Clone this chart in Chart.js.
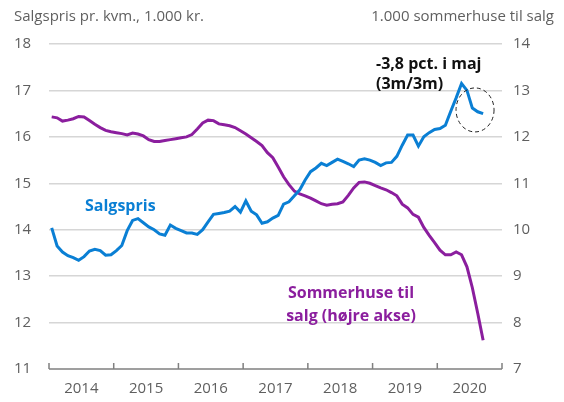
<!DOCTYPE html>
<html>
<head>
<meta charset="utf-8">
<script src="https://cdn.jsdelivr.net/npm/chart.js@4/dist/chart.umd.min.js"></script>
<style>
    body { margin: 0; background: #fff; }
    #wrap { width: 564px; height: 402px; }
</style>
</head>
<body>
<div id="wrap"><canvas id="myChart"></canvas></div>
<script>
const years = ['2014', '2015', '2016', '2017', '2018', '2019', '2020'];

// salgspris pr. kvm., 1.000 kr. (venstre akse), one value per month
const salgspris = [
    14.04, 13.65, 13.52, 13.44, 13.40, 13.34, 13.42, 13.54, 13.58, 13.55,
    13.45, 13.46, 13.55, 13.66, 13.98, 14.20, 14.24, 14.15, 14.06, 14.00,
    13.91, 13.88, 14.10, 14.03, 13.98, 13.93, 13.93, 13.90, 14.00, 14.17,
    14.33, 14.35, 14.37, 14.40, 14.50, 14.38, 14.62, 14.40, 14.32, 14.14,
    14.17, 14.25, 14.31, 14.55, 14.60, 14.73, 14.86, 15.07, 15.25, 15.33,
    15.43, 15.38, 15.45, 15.52, 15.47, 15.42, 15.36, 15.50, 15.53, 15.50,
    15.45, 15.38, 15.44, 15.45, 15.58, 15.82, 16.04, 16.04, 15.80, 16.00,
    16.09, 16.16, 16.18, 16.25, 16.55, 16.84, 17.15, 17.00, 16.62, 16.54,
    16.50
];

// 1.000 sommerhuse til salg (højre akse)
const tilSalg = [
    12.43, 12.41, 12.34, 12.36, 12.39, 12.44, 12.43, 12.35, 12.27, 12.20,
    12.14, 12.11, 12.09, 12.07, 12.04, 12.08, 12.06, 12.02, 11.94, 11.90,
    11.90, 11.92, 11.94, 11.96, 11.98, 12.00, 12.05, 12.17, 12.30, 12.36,
    12.35, 12.28, 12.26, 12.24, 12.20, 12.13, 12.06, 11.98, 11.90, 11.81,
    11.66, 11.55, 11.35, 11.14, 10.97, 10.83, 10.77, 10.73, 10.68, 10.62,
    10.56, 10.53, 10.55, 10.56, 10.60, 10.74, 10.90, 11.02, 11.03, 11.00,
    10.95, 10.90, 10.86, 10.80, 10.73, 10.55, 10.47, 10.33, 10.27, 10.05,
    9.88, 9.72, 9.56, 9.46, 9.46, 9.52, 9.46, 9.20, 8.75, 8.20,
    7.62
];

const blue = '#0a7fd4';
const purple = '#8b1e9e';
const grey = '#5f5f5f';
const font = 'Open Sans';

const toPoints = (arr) => arr.map((v, i) => ({ x: i + 0.5, y: v }));

const extras = {
    id: 'extras',
    afterDraw(chart)
    {
        const { ctx, chartArea, scales } = chart;
        const x = scales.x;
        const y = scales.y;
        ctx.save();

        // bottom axis line with ticks pointing up
        ctx.strokeStyle = '#808080';
        ctx.lineWidth = 1.5;
        ctx.beginPath();
        ctx.moveTo(x.getPixelForValue(0), chartArea.bottom);
        ctx.lineTo(x.getPixelForValue(years.length * 12), chartArea.bottom);
        for (let m = 0; m <= years.length * 12; m += 12)
        {
            const px = x.getPixelForValue(m);
            ctx.moveTo(px, chartArea.bottom);
            ctx.lineTo(px, chartArea.bottom - 6);
        }
        ctx.stroke();

        // axis titles
        ctx.fillStyle = grey;
        ctx.font = '15px "' + font + '"';
        ctx.textBaseline = 'middle';
        ctx.textAlign = 'left';
        ctx.fillText('Salgspris pr. kvm., 1.000 kr.', 14, 17);
        ctx.textAlign = 'right';
        ctx.fillText('1.000 sommerhuse til salg', 554, 17);

        // series labels
        ctx.font = 'bold 16px "' + font + '"';
        ctx.textAlign = 'left';
        ctx.fillStyle = blue;
        ctx.fillText('Salgspris', 85, 206);
        ctx.fillStyle = purple;
        ctx.textAlign = 'center';
        ctx.fillText('Sommerhuse til', 351, 293);
        ctx.fillText('salg (højre akse)', 351, 316);

        ctx.fillStyle = '#111';
        ctx.textAlign = 'left';
        ctx.fillText('-3,8 pct. i maj', 376, 64);
        ctx.fillText('(3m/3m)', 376, 84);

        // dashed circle round the last months
        ctx.strokeStyle = '#222';
        ctx.lineWidth = 1;
        ctx.setLineDash([4, 3]);
        ctx.beginPath();
        ctx.ellipse(x.getPixelForValue(79), y.getPixelForValue(16.58), 19, 22, 0, 0, Math.PI * 2);
        ctx.stroke();

        ctx.restore();
    }
};

new Chart(document.getElementById('myChart'), {
    type: 'line',
    data: {
        datasets: [
            {
                data: toPoints(salgspris),
                borderColor: blue,
                borderWidth: 3,
                pointRadius: 0,
                yAxisID: 'y',
            },
            {
                data: toPoints(tilSalg),
                borderColor: purple,
                borderWidth: 3,
                pointRadius: 0,
                yAxisID: 'y1',
            },
        ]
    },
    options: {
        responsive: true,
        maintainAspectRatio: false,
        animation: false,
        layout: {
            padding: {
                top: 44,
                bottom: 0,
                left: 14,
                right: 0
            },
        },
        plugins: {
            legend: { display: false },
            tooltip: { enabled: false },
        },
        scales: {
            x: {
                type: 'linear',
                min: 0,
                max: years.length * 12,
                afterBuildTicks: (scale) =>
                {
                    scale.ticks = years.map((_, i) => ({ value: i * 12 + 6 }));
                },
                ticks: {
                    autoSkip: false,
                    maxRotation: 0,
                    padding: 3,
                    color: grey,
                    font: { family: font, size: 15 },
                    callback: (value) => years[Math.round((value - 6) / 12)],
                },
                grid: { display: false },
                border: { display: false },
                afterFit: (scale) => { scale.height = 33; },
            },
            y: {
                position: 'left',
                min: 11,
                max: 18,
                ticks: {
                    stepSize: 1,
                    crossAlign: 'far',
                    padding: 0,
                    color: grey,
                    font: { family: font, size: 15 },
                },
                grid: {
                    color: (ctx) => ctx.tick && ctx.tick.value === 11 ? 'rgba(0,0,0,0)' : '#d6d6d6',
                    lineWidth: 1.5,
                    drawTicks: false,
                },
                border: { display: false },
                afterFit: (scale) => { scale.width = 35; },
            },
            y1: {
                position: 'right',
                min: 7,
                max: 14,
                ticks: {
                    stepSize: 1,
                    crossAlign: 'near',
                    padding: 11,
                    color: grey,
                    font: { family: font, size: 15 },
                },
                grid: { drawOnChartArea: false, drawTicks: false },
                border: { display: false },
                afterFit: (scale) => { scale.width = 62; },
            }
        }
    },
    plugins: [extras]
});
</script>
</body>
</html>
